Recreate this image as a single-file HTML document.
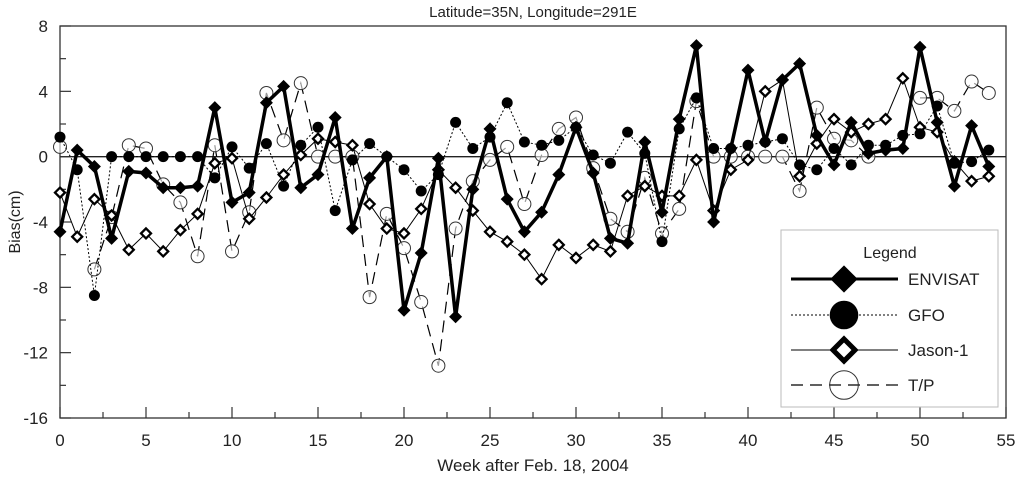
<!DOCTYPE html>
<html><head><meta charset="utf-8"><style>
body{margin:0;background:#fff;}
svg text{font-family:"Liberation Sans",Arial,sans-serif;fill:#222;}
</style></head><body>
<svg id="chart" width="1024" height="477" xmlns="http://www.w3.org/2000/svg">
<g id="axes"></g><g id="series"></g><g id="legend"></g>
</svg>
<script>
const weeks = Array.from({length:55},(_,i)=>i);
const envisat = [-4.6,0.4,-0.6,-5.0,-0.9,-1.0,-1.9,-1.9,-1.8,3.0,-2.8,-2.2,3.3,4.3,-1.9,-1.1,2.4,-4.4,-1.3,0,-9.4,-5.9,-0.1,-9.8,-2.0,1.7,-2.6,-4.6,-3.4,-1.1,1.8,-1.0,-5.0,-5.3,0.9,-3.4,2.3,6.8,-4.0,0.5,5.3,0.9,4.7,5.7,1.3,-0.5,2.1,0.2,0.4,0.5,6.7,2.1,-1.8,1.9,-0.6];
const gfo = [1.2,-0.8,-8.5,0,0,0,0,0,0,-1.3,0.6,-0.7,0.8,-1.8,0.7,1.8,-3.3,-0.2,0.8,0,-0.8,-2.1,-1.1,2.1,0.5,1.2,3.3,0.9,0.7,1.0,1.8,0.1,-0.4,1.5,0.2,-5.2,1.7,3.6,0.5,0.5,0.7,0.9,1.1,-0.5,-0.8,0.5,-0.5,0.7,0.7,1.3,1.4,3.1,-0.4,-0.3,0.4];
const jason = [-2.2,-4.9,-2.6,-3.6,-5.7,-4.7,-5.8,-4.5,-3.5,-0.4,-0.1,-3.8,-2.5,-1.1,0.1,1.1,0.9,0.7,-2.9,-4.4,-4.7,-3.2,-0.8,-1.9,-3.3,-4.6,-5.2,-6.0,-7.5,-5.4,-6.2,-5.4,-5.8,-2.4,-1.8,-2.4,-2.4,-0.2,-3.3,-0.8,-0.2,4.0,4.7,-1.2,0.8,2.3,1.5,2.0,2.3,4.8,1.8,1.5,-0.3,-1.5,-1.2];
const tp = [0.6,null,-6.9,-3.7,0.7,0.5,-1.7,-2.8,-6.1,0.7,-5.8,-3.4,3.9,1.0,4.5,0,0,0,-8.6,-3.5,-5.6,-8.9,-12.8,-4.4,-1.5,-0.2,0.6,-2.9,0.1,1.7,2.4,-0.7,-3.8,-4.6,-1.3,-4.7,-3.2,3.4,0,0,0,0,0,-2.1,3.0,1.1,1.0,0,null,null,3.6,3.6,2.8,4.6,3.9];
const xTicks = [0,5,10,15,20,25,30,35,40,45,50,55];
const yTicks = [-16,-12,-8,-4,0,4,8];

const NS="http://www.w3.org/2000/svg";
const X0=60,X1=1006,Y0=26,Y1=418;
const xs=w=>X0+(w/55)*(X1-X0);
const ys=v=>Y1-((v+16)/24)*(Y1-Y0);
function mk(tag,attrs,parent){const e=document.createElementNS(NS,tag);for(const k in attrs)e.setAttribute(k,attrs[k]);parent.appendChild(e);return e;}
const axes=document.getElementById('axes'),ser=document.getElementById('series'),leg=document.getElementById('legend');

let fr=mk('rect',{x:X0,y:Y0,width:X1-X0,height:Y1-Y0,fill:'none',stroke:'#333','stroke-width':1.3},axes);


let zl=mk('line',{x1:X0,x2:X1,y1:ys(0),y2:ys(0),stroke:'#222','stroke-width':1.3},axes);


for(let w=0;w<=55;w+=2.5){const maj=w%5===0;mk('line',{x1:xs(w),x2:xs(w),y1:Y1,y2:Y1-(maj?11:6),stroke:'#333','stroke-width':1.2},axes);}
xTicks.forEach(t=>{const e=mk('text',{x:xs(t),y:446,'text-anchor':'middle','font-size':17},axes);e.textContent=t;

});
for(let v=-16;v<=8;v+=2){const maj=v%4===0;mk('line',{x1:X0,x2:X0+(maj?11:6),y1:ys(v),y2:ys(v),stroke:'#333','stroke-width':1.2},axes);}
yTicks.forEach(t=>{const e=mk('text',{x:48,y:ys(t)+6,'text-anchor':'end','font-size':17},axes);e.textContent=t;

});
let t1=mk('text',{x:533,y:17,'text-anchor':'middle','font-size':15},axes);t1.textContent='Latitude=35N, Longitude=291E';


let t2=mk('text',{x:533,y:471,'text-anchor':'middle','font-size':17},axes);t2.textContent='Week after Feb. 18, 2004';


let t3=mk('text',{x:20,y:222,'text-anchor':'middle','font-size':16,transform:'rotate(-90 20 222)'},axes);t3.textContent='Bias(cm)';



function marker(type,cx,cy,g,scale,hollow){
  scale=scale||1;
  if(type==='env'){const s=6.5*scale;mk('polygon',{points:`${cx},${cy-s} ${cx+s},${cy} ${cx},${cy+s} ${cx-s},${cy}`,fill:'#000'},g);}
  else if(type==='gfo'){mk('circle',{cx,cy,r:5.5*scale,fill:'#000'},g);}
  else if(type==='jas'){const s=5*scale;mk('polygon',{points:`${cx},${cy-s} ${cx+s},${cy} ${cx},${cy+s} ${cx-s},${cy}`,fill:'#fff',stroke:'#000','stroke-width':2.3*scale},g);}
  else {mk('circle',{cx,cy,r:6.5*scale,fill:hollow?'none':'#fff','fill-opacity':0.6,stroke:'#333','stroke-width':1},g);}
}
const defs=[
 {name:'envisat',data:envisat,type:'env',style:{'stroke-width':3.5}},
 {name:'gfo',data:gfo,type:'gfo',style:{'stroke-width':1,'stroke-dasharray':'2,2'}},
 {name:'jason-1',data:jason,type:'jas',style:{'stroke-width':1}},
 {name:'tp',data:tp,type:'tp',style:{'stroke-width':1.2,'stroke-dasharray':'12,7'}}
];
[3,2,1,0].forEach(i=>{const d=defs[i];
 const g=mk('g',{},ser);
 
 
 let segs=[],cur=[];
 d.data.forEach((v,k)=>{if(v===null){if(cur.length)segs.push(cur);cur=[];}else cur.push(xs(weeks[k])+','+ys(v));});
 if(cur.length)segs.push(cur);
 segs.forEach(s=>{if(s.length>1){const a=Object.assign({points:s.join(' '),fill:'none',stroke:'#000','stroke-linejoin':'miter'},d.style);mk('polyline',a,g);}});
 d.data.forEach((v,k)=>{if(v!==null)marker(d.type,xs(weeks[k]),ys(v),g);});
});

let lb=mk('rect',{x:781,y:230,width:217,height:177,fill:'#fff',stroke:'#bbb','stroke-width':1},leg);


let lt=mk('text',{x:890,y:258,'text-anchor':'middle','font-size':16},leg);lt.textContent='Legend';


const labels=['ENVISAT','GFO','Jason-1','T/P'];const ly=[279,315,350,385];
defs.forEach((d,i)=>{const g=mk('g',{},leg);
 
 
 const st=Object.assign({x1:791,x2:898,y1:ly[i],y2:ly[i],stroke:'#000'},d.style);
 if(i===0)st['stroke-width']=3;
 mk('line',st,g);
 marker(d.type,844,ly[i],g,i===3?2.2:(i===0?2.1:(i===1?2.6:2.2)),true);
 const t=mk('text',{x:908,y:ly[i]+6,'font-size':17},g);t.textContent=labels[i];});
</script>
</body></html>
